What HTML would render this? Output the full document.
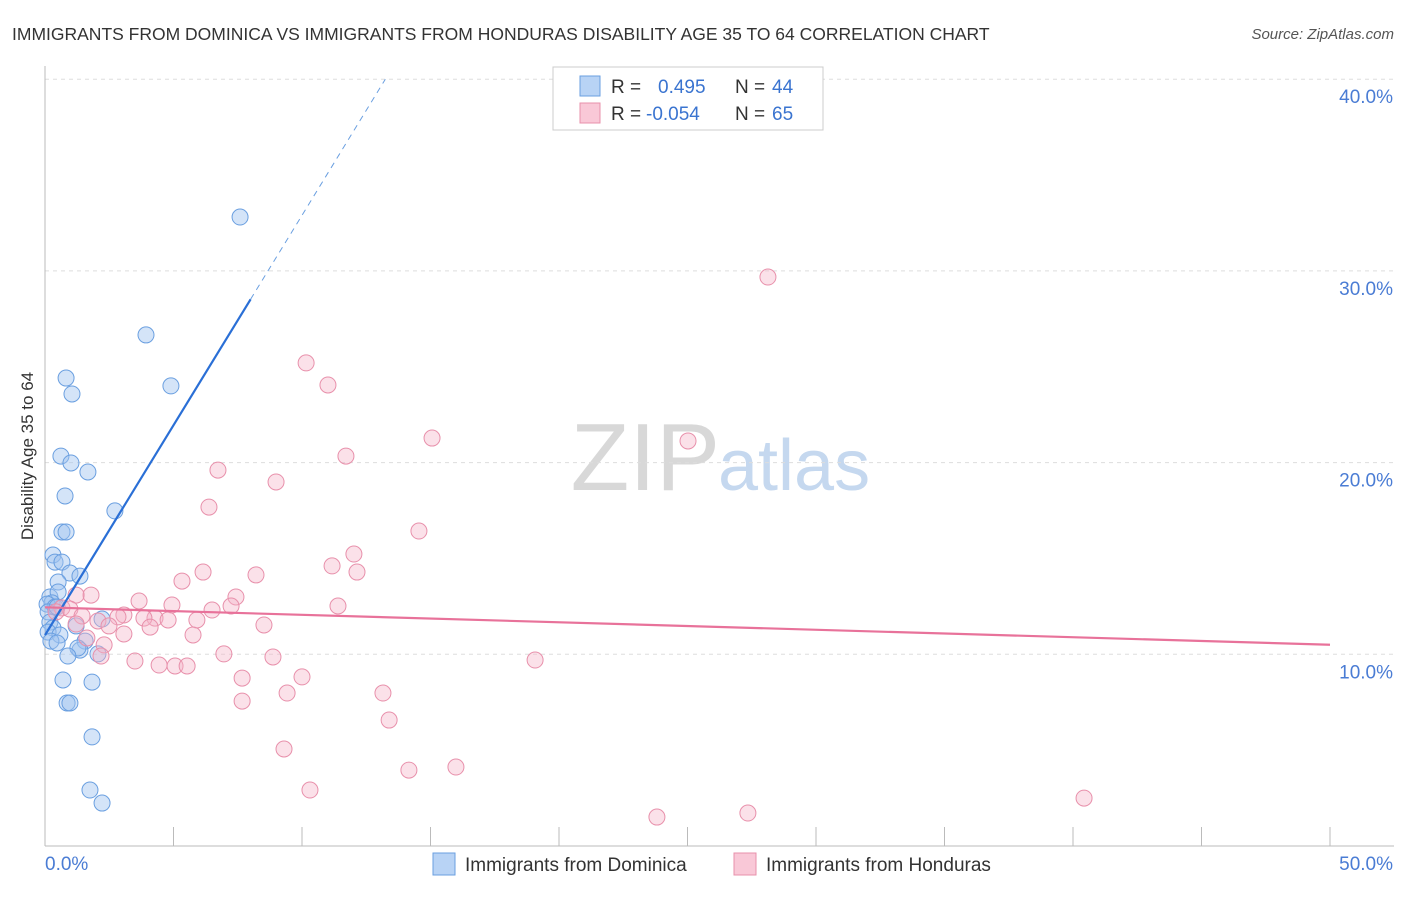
<!DOCTYPE html>
<html><head><meta charset="utf-8"><style>
body{margin:0;background:#fff;font-family:"Liberation Sans",sans-serif;}
svg text{font-family:"Liberation Sans",sans-serif;}
</style></head><body>
<svg width="1406" height="892" id="chart">
<text x="12" y="40" font-size="17.5" fill="#333">IMMIGRANTS FROM DOMINICA VS IMMIGRANTS FROM HONDURAS DISABILITY AGE 35 TO 64 CORRELATION CHART</text>
<text x="1394" y="39" font-size="15" fill="#555" font-style="italic" text-anchor="end">Source: ZipAtlas.com</text>
<text x="720" y="490" font-size="96" fill="#d8d8d8" text-anchor="end" font-family="Liberation Serif">ZIP</text>
<text x="718" y="490" font-size="72" fill="#c5d8ef">atlas</text>
<text transform="translate(33,456) rotate(-90)" font-size="17" fill="#333" text-anchor="middle">Disability Age 35 to 64</text>
<g id="grid"></g><g id="axes"></g><g id="pts"></g><g id="lines"></g>
<g>
<rect x="553" y="67" width="270" height="63" fill="#fff" stroke="#ccc"/>
<rect x="580" y="76" width="20" height="20" fill="#b8d3f5" stroke="#6a9fe0"/>
<rect x="580" y="103" width="20" height="20" fill="#f9c8d7" stroke="#e890ab"/>
<text x="611" y="93" font-size="19" fill="#333">R = </text><text x="658" y="93" font-size="19" fill="#3a74d0">0.495</text>
<text x="735" y="93" font-size="19" fill="#333">N = </text><text x="772" y="93" font-size="19" fill="#3a74d0">44</text>
<text x="611" y="120" font-size="19" fill="#333">R = </text><text x="646" y="120" font-size="19" fill="#3a74d0">-0.054</text>
<text x="735" y="120" font-size="19" fill="#333">N = </text><text x="772" y="120" font-size="19" fill="#3a74d0">65</text>
</g>
<g>
<rect x="433" y="853" width="22" height="22" fill="#b8d3f5" stroke="#6a9fe0"/>
<text x="465" y="871" font-size="19" fill="#333">Immigrants from Dominica</text>
<rect x="734" y="853" width="22" height="22" fill="#f9c8d7" stroke="#e890ab"/>
<text x="766" y="871" font-size="19" fill="#333">Immigrants from Honduras</text>
</g>
</svg>
<script>
const yTicks=[10,20,30,40];
const xTickLabels=["0.0%","50.0%"];
const blueX=[7.59,3.93,0.82,4.90,1.05,0.62,1.01,1.67,0.78,2.72,0.66,0.82,0.31,0.39,0.66,0.97,1.36,0.51,0.19,0.51,0.27,0.08,0.39,0.12,0.47,0.19,0.31,1.21,0.12,0.58,2.22,1.56,0.23,0.47,1.36,1.28,0.89,2.06,0.70,1.83,0.86,0.97,1.83,1.75,2.22];
const blueY=[32.81,26.66,24.41,24.00,23.58,20.34,19.98,19.51,18.26,17.48,16.38,16.38,15.18,14.81,14.81,14.24,14.08,13.77,12.99,13.25,12.68,12.62,12.47,12.21,12.47,11.68,11.37,11.48,11.16,11.01,11.84,10.69,10.69,10.59,10.22,10.33,9.91,10.02,8.66,8.55,7.46,7.46,5.69,2.92,2.24];
const pinkX=[28.13,10.16,11.01,15.06,25.02,11.71,6.73,8.99,6.38,14.55,12.02,11.17,12.14,6.15,8.21,5.33,7.43,3.66,4.94,7.24,1.79,1.21,0.66,0.97,0.43,1.44,3.07,11.40,6.50,2.84,5.91,4.28,3.85,4.79,2.06,1.21,2.49,4.09,8.52,3.07,5.76,1.63,2.30,6.96,2.18,3.50,8.87,4.44,5.06,5.53,19.07,10.00,7.67,9.42,13.15,7.67,13.39,9.30,14.16,15.99,10.31,40.43,23.81,27.35];
const pinkY=[29.68,25.20,24.05,21.28,21.13,20.34,19.61,18.99,17.68,16.43,15.23,14.61,14.29,14.29,14.14,13.82,12.99,12.78,12.57,12.52,13.09,13.09,12.42,12.36,12.21,12.00,12.05,12.52,12.31,11.95,11.79,11.89,11.89,11.79,11.74,11.58,11.48,11.42,11.53,11.06,11.01,10.85,10.49,10.02,9.91,9.65,9.86,9.44,9.39,9.39,9.70,8.82,8.76,7.98,7.98,7.56,6.57,5.06,3.96,4.12,2.92,2.50,1.51,1.72];
const blueTrend=[11.0,2.19]; // intercept, slope
const pinkTrend=[12.45,-0.039];
const NS="http://www.w3.org/2000/svg";
const X=v=>45+v*25.7, Y=v=>846-v*19.17;
function mk(tag,attrs,parent){const e=document.createElementNS(NS,tag);for(const k in attrs)e.setAttribute(k,attrs[k]);document.getElementById(parent).appendChild(e);return e;}
yTicks.forEach(t=>{
 const g=mk('line',{x1:45,x2:1394,y1:Y(t),y2:Y(t),stroke:'#ddd','stroke-dasharray':'4,4'},'grid');
 
 
 const tx=mk('text',{x:1393,y:Y(t)+24,'font-size':19,fill:'#4a7cd4','text-anchor':'end'},'grid');
 tx.textContent=t.toFixed(1)+'%';
 
 
});
const ax=mk('line',{x1:45,x2:45,y1:66,y2:846,stroke:'#bbb'},'axes');


const bx=mk('line',{x1:45,x2:1394,y1:846,y2:846,stroke:'#bbb'},'axes');


for(let i=0;i<=10;i++){const t=mk('line',{x1:X(i*5),x2:X(i*5),y1:827,y2:846,stroke:'#bbb'},'axes');
 
 }
[[0,'start',45],[50,'end',1393]].forEach((d,i)=>{const t=mk('text',{x:d[2],y:870,'font-size':19,fill:'#4a7cd4','text-anchor':d[1]},'axes');t.textContent=xTickLabels[i];
 
 });
blueX.forEach((v,i)=>{const c=mk('circle',{cx:X(v),cy:Y(blueY[i]),r:8,fill:'rgba(160,196,240,0.45)',stroke:'#6a9fe0','stroke-width':1},'pts');
 
 });
pinkX.forEach((v,i)=>{const c=mk('circle',{cx:X(v),cy:Y(pinkY[i]),r:8,fill:'rgba(245,180,200,0.4)',stroke:'#e890ab','stroke-width':1},'pts');
 
 });
const bEnd=8.0, bDash=(40-blueTrend[0])/blueTrend[1];
const l1=mk('line',{x1:X(0),y1:Y(blueTrend[0]),x2:X(bEnd),y2:Y(blueTrend[0]+blueTrend[1]*bEnd),stroke:'#2a6fd6','stroke-width':2.2},'lines');


const l2=mk('line',{x1:X(bEnd),y1:Y(blueTrend[0]+blueTrend[1]*bEnd),x2:X(bDash),y2:Y(40),stroke:'#6a9fe0','stroke-width':1,'stroke-dasharray':'6,5'},'lines');


const l3=mk('line',{x1:X(0),y1:Y(pinkTrend[0]),x2:X(50),y2:Y(pinkTrend[0]+pinkTrend[1]*50),stroke:'#e8729a','stroke-width':2.2},'lines');


</script>
</body></html>
